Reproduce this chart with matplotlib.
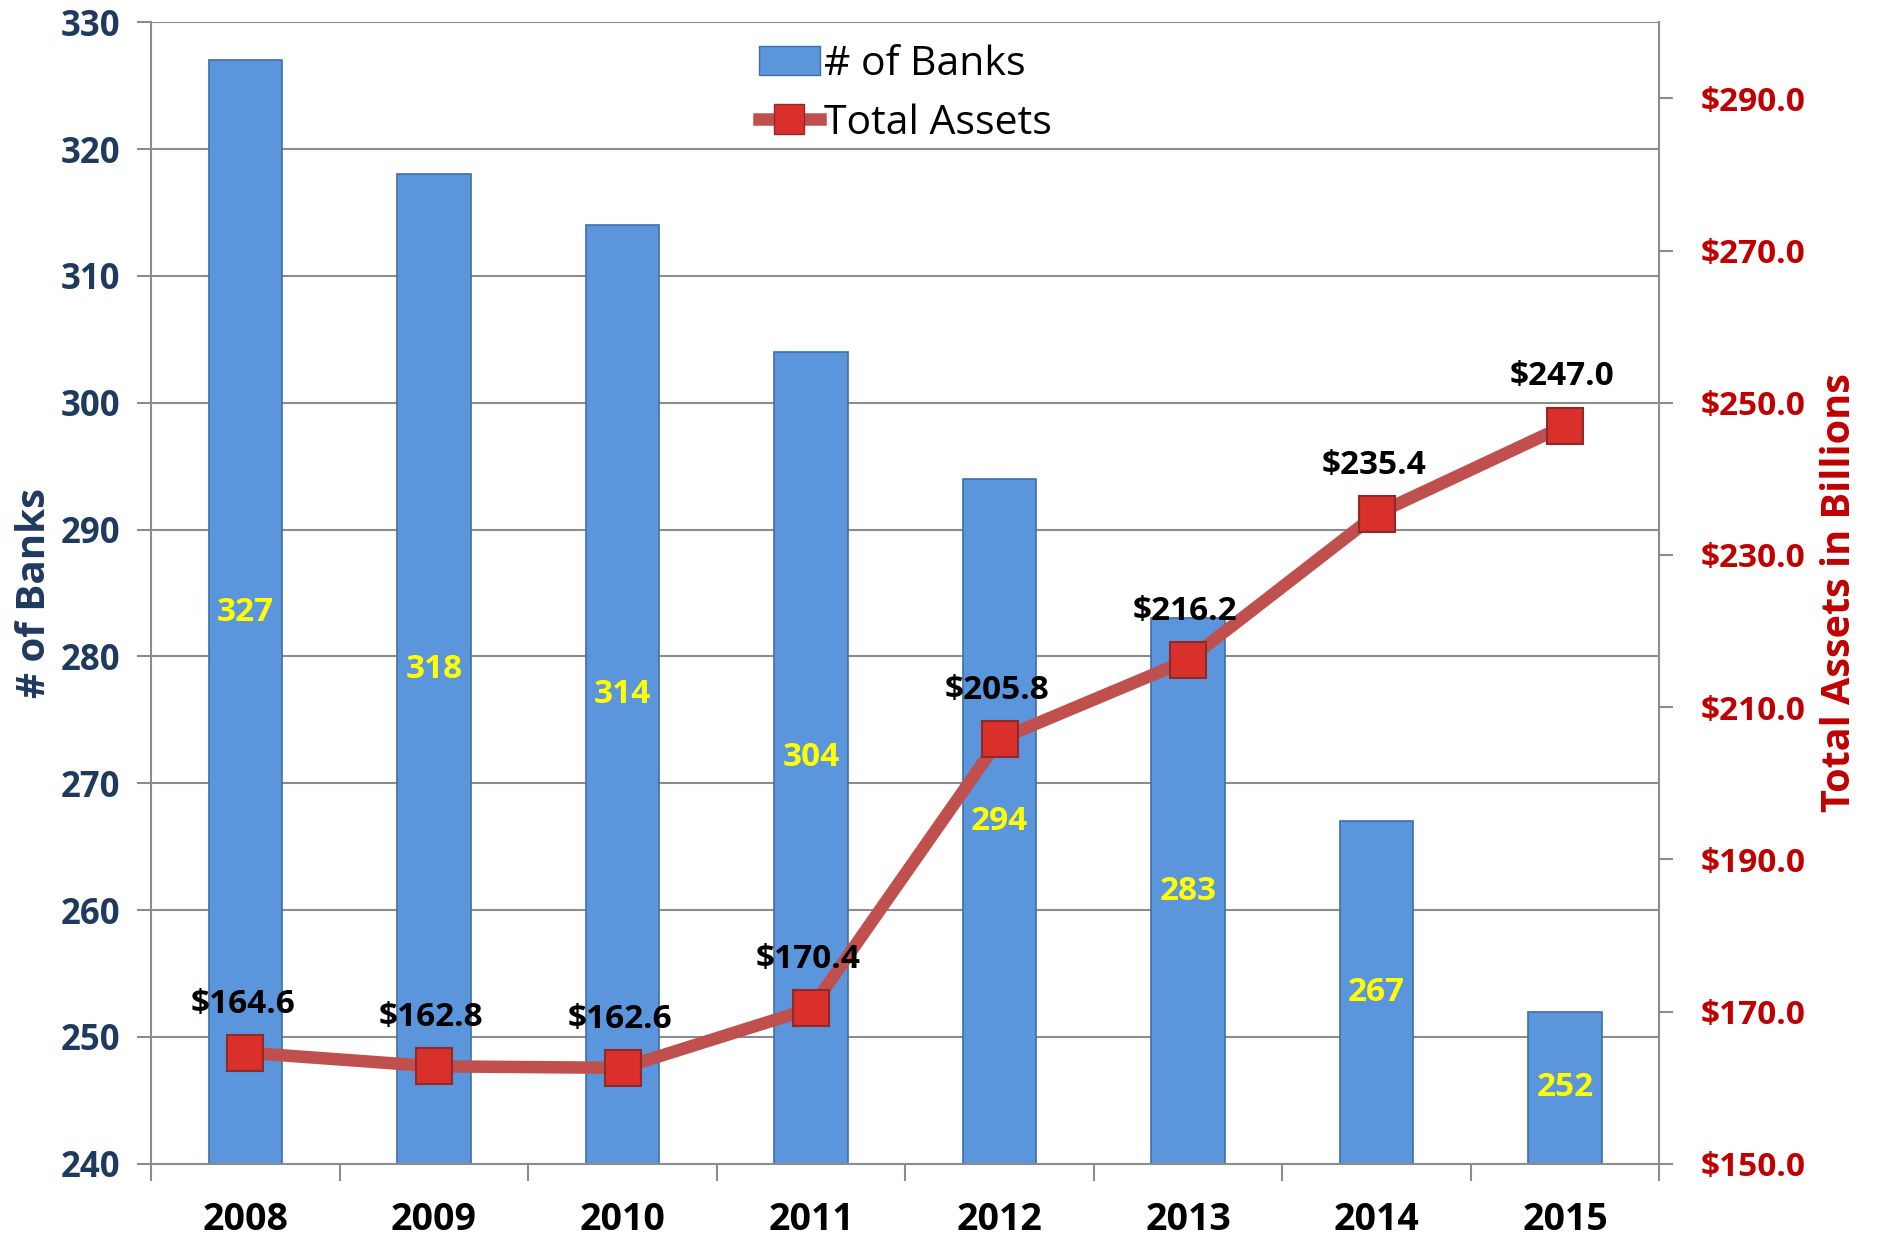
import numpy as np
import matplotlib
matplotlib.use("Agg")
import matplotlib.pyplot as plt
from matplotlib.lines import Line2D
from matplotlib.patches import Patch

plt.rcParams['font.family'] = ['Open Sans', 'DejaVu Sans']

# data
years = ['2008', '2009', '2010', '2011', '2012', '2013', '2014', '2015']
banks = [327, 318, 314, 304, 294, 283, 267, 252]
assets = [164.6, 162.8, 162.6, 170.4, 205.8, 216.2, 235.4, 247.0]
left_ticks = list(range(240, 331, 10))
right_ticks = list(range(150, 291, 20))

bar_col = '#5B95DC'
line_col = '#C0504D'
navy = '#1F3A5F'
dark_red = '#C00000'
grid_col = '#8C8C8C'

fig = plt.figure(figsize=(18.9, 12.38), dpi=100)
ax = fig.add_axes([0.080, 0.060, 0.798, 0.922])
x = np.arange(len(years))

# bars
ax.bar(x, banks, width=0.39, color=bar_col, edgecolor='#3F6FA8', linewidth=1.2, zorder=2)
for xi, v in zip(x, banks):
    ax.text(xi, (240 + v) / 2, str(v), ha='center', va='center', color='#FFFF00',
            fontsize=24, fontweight='bold', zorder=3)

ax.set_ylim(240, 330)
ax.set_xlim(-0.5, len(years) - 0.5)
ax.set_yticks(left_ticks)
ax.yaxis.grid(True, color=grid_col, linewidth=1.5, zorder=0)
ax.set_axisbelow(True)
ax.tick_params(axis='y', colors=grid_col, labelcolor=navy, labelsize=25, length=10,
               width=1.5, pad=12)
for lbl in ax.get_yticklabels():
    lbl.set_fontweight('bold')
ax.set_ylabel('# of Banks', fontsize=29, fontweight='bold', color=navy, labelpad=5)

ax.set_xticks(x)
ax.set_xticklabels(years, fontsize=27, fontweight='bold')
ax.set_xticks(np.arange(-0.5, len(years), 1), minor=True)
ax.tick_params(axis='x', which='major', length=0, pad=27)
ax.tick_params(axis='x', which='minor', length=12, width=1.5, color=grid_col)
for sp in ['left', 'bottom']:
    ax.spines[sp].set_color(grid_col)
    ax.spines[sp].set_linewidth(1.5)
ax.spines['top'].set_visible(False)
ax.spines['right'].set_visible(False)

# line on secondary axis
ax2 = ax.twinx()
ax2.plot(x, assets, color=line_col, linewidth=9, solid_capstyle='round', zorder=3)
ax2.plot(x, assets, linestyle='none', marker='s', markersize=26, markerfacecolor='#D9302C',
         markeredgecolor='#8E2A27', markeredgewidth=1.5, zorder=4)
for xi, v in zip(x, assets):
    ax2.annotate('$%.1f' % v, (xi, v), xytext=(-2, 35), textcoords='offset points',
                 ha='center', va='center', fontsize=24, fontweight='bold', color='black',
                 zorder=5)
ax2.set_ylim(150, 300)
ax2.set_yticks(right_ticks)
ax2.set_yticklabels(['$%.1f' % t for t in right_ticks])
ax2.tick_params(axis='y', colors=grid_col, labelcolor=dark_red, labelsize=24, length=10,
                width=1.5, pad=20)
for lbl in ax2.get_yticklabels():
    lbl.set_fontweight('bold')
ax2.set_ylabel('Total Assets in Billions', fontsize=28.5, fontweight='bold', color=dark_red,
               labelpad=10)
ax2.spines['right'].set_color(grid_col)
ax2.spines['right'].set_linewidth(1.5)
for sp in ['top', 'left', 'bottom']:
    ax2.spines[sp].set_visible(False)

# legend
handles = [Patch(facecolor=bar_col, edgecolor='#3F6FA8'),
           Line2D([0], [0], color=line_col, linewidth=9, marker='s', markersize=22,
                  markerfacecolor='#D9302C', markeredgecolor='#8E2A27')]
ax2.legend(handles, ['# of Banks', 'Total Assets'], loc='upper center',
           bbox_to_anchor=(0.5, 1.013), frameon=False, fontsize=29.5, handlelength=1.5,
           handletextpad=0.1, labelspacing=0.45)

fig.savefig('out.png', dpi=100)
